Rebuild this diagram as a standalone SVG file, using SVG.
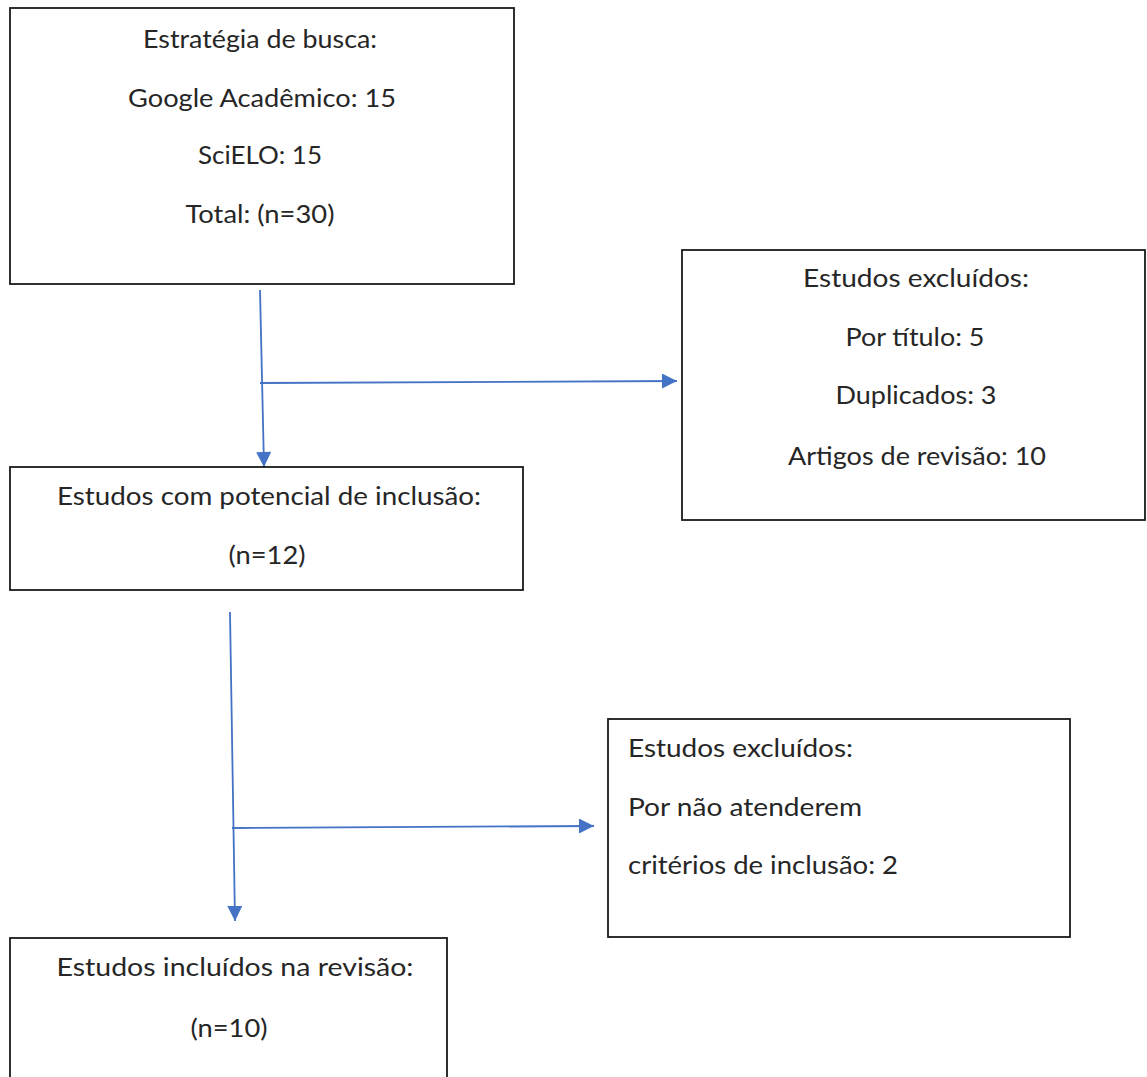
<svg xmlns="http://www.w3.org/2000/svg" width="1147" height="1077" viewBox="0 0 1147 1077">
<defs>
<style>
.box{fill:#fff;stroke:#1a1a1a;stroke-width:1.8}
.t{font-family:Lato,"Open Sans","Liberation Sans",sans-serif;font-size:25px;fill:#262626}
.c{text-anchor:middle}
.ln{stroke:#4472C4;stroke-width:1.8;fill:none}
</style>
<marker id="ah" viewBox="0 0 10 10" refX="10" refY="5" markerUnits="userSpaceOnUse" markerWidth="16" markerHeight="15" orient="auto">
<path d="M0,0 L10,5 L0,10 Z" fill="#4472C4"/>
</marker>
</defs>
<rect width="1147" height="1077" fill="#fff"/>
<g id="connectors">
<line class="ln" x1="260" y1="290" x2="264" y2="467" marker-end="url(#ah)"/>
<line class="ln" x1="260" y1="383" x2="677" y2="381" marker-end="url(#ah)"/>
<line class="ln" x1="230" y1="612" x2="235" y2="921" marker-end="url(#ah)"/>
<line class="ln" x1="232" y1="828" x2="594" y2="826" marker-end="url(#ah)"/>
</g>
<g id="n1">
<rect class="box" x="10" y="8" width="504" height="276"/>
<text class="t c" x="260" y="48" textLength="234" lengthAdjust="spacingAndGlyphs">Estratégia de busca:</text>
<text class="t c" x="262" y="107" textLength="268" lengthAdjust="spacingAndGlyphs">Google Acadêmico: 15</text>
<text class="t c" x="260" y="164" textLength="124" lengthAdjust="spacingAndGlyphs">SciELO: 15</text>
<text class="t c" x="260" y="223" textLength="149" lengthAdjust="spacingAndGlyphs">Total: (n=30)</text>
</g>
<g id="n2">
<rect class="box" x="10" y="467" width="513" height="123"/>
<text class="t c" x="269" y="505" textLength="424" lengthAdjust="spacingAndGlyphs">Estudos com potencial de inclusão:</text>
<text class="t c" x="267" y="564" textLength="77" lengthAdjust="spacingAndGlyphs">(n=12)</text>
</g>
<g id="n3">
<rect class="box" x="682" y="250" width="463" height="270"/>
<text class="t c" x="916" y="287" textLength="226" lengthAdjust="spacingAndGlyphs">Estudos excluídos:</text>
<text class="t c" x="915" y="346" textLength="139" lengthAdjust="spacingAndGlyphs">Por título: 5</text>
<text class="t c" x="916" y="404" textLength="161" lengthAdjust="spacingAndGlyphs">Duplicados: 3</text>
<text class="t c" x="917" y="465" textLength="258" lengthAdjust="spacingAndGlyphs">Artigos de revisão: 10</text>
</g>
<g id="n4">
<rect class="box" x="608" y="719" width="462" height="218"/>
<text class="t" x="628" y="757" textLength="225" lengthAdjust="spacingAndGlyphs">Estudos excluídos:</text>
<text class="t" x="628" y="816" textLength="234" lengthAdjust="spacingAndGlyphs">Por não atenderem</text>
<text class="t" x="628" y="874" textLength="270" lengthAdjust="spacingAndGlyphs">critérios de inclusão: 2</text>
</g>
<g id="n5">
<rect class="box" x="10" y="938" width="437" height="200"/>
<text class="t c" x="235" y="976" textLength="357" lengthAdjust="spacingAndGlyphs">Estudos incluídos na revisão:</text>
<text class="t c" x="229" y="1037" textLength="77" lengthAdjust="spacingAndGlyphs">(n=10)</text>
</g>
</svg>
